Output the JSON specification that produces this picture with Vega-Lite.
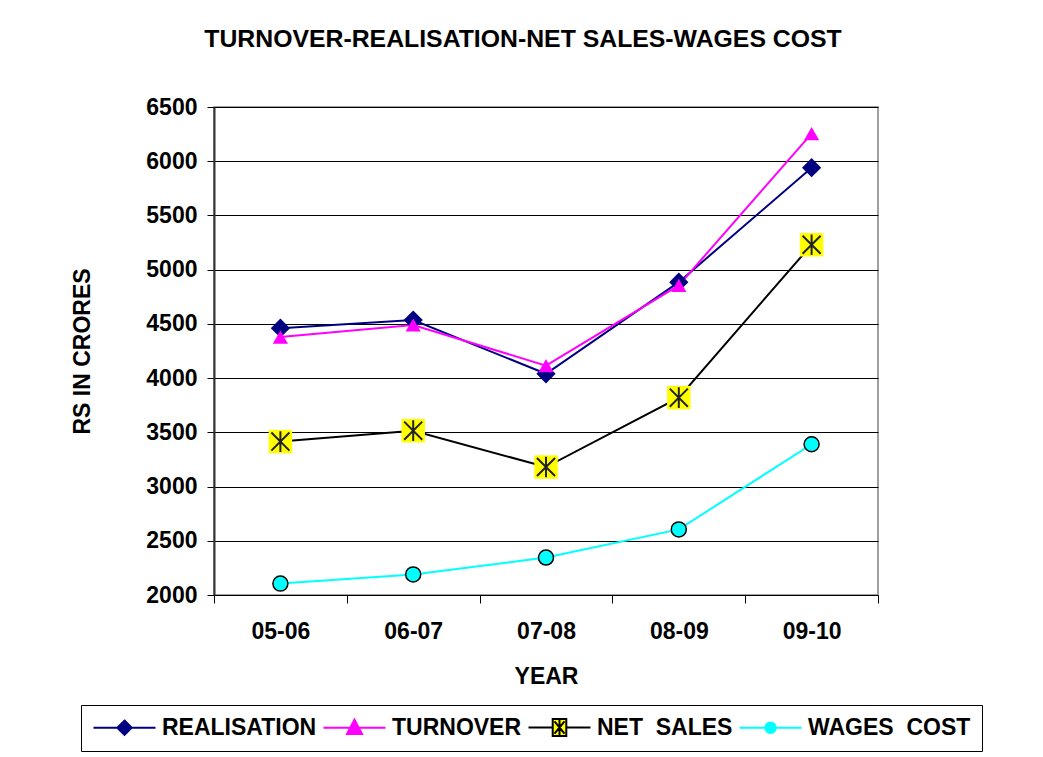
{
  "$schema": "https://vega.github.io/schema/vega-lite/v6.json",
  "width": 664,
  "height": 488,
  "autosize": {"type": "none"},
  "padding": {"left": 214, "top": 107, "right": 165, "bottom": 162},
  "background": "white",
  "title": {
    "text": "TURNOVER-REALISATION-NET SALES-WAGES COST",
    "font": "Liberation Sans",
    "fontSize": 24.8,
    "fontWeight": "bold",
    "color": "black",
    "anchor": "middle",
    "frame": "group",
    "dx": -23,
    "offset": 44
  },
  "config": {
    "view": {"stroke": "#808080", "strokeWidth": 1.5},
    "axis": {
      "labelFont": "Liberation Sans",
      "labelFontSize": 23,
      "labelFontWeight": "bold",
      "labelColor": "black",
      "titleFont": "Liberation Sans",
      "titleFontSize": 23,
      "titleFontWeight": "bold",
      "titleColor": "black",
      "tickColor": "black",
      "domainColor": "#333333"
    }
  },
  "data": {
    "values": [
      {"year": "05-06", "series": "REALISATION", "value": 4460},
      {"year": "06-07", "series": "REALISATION", "value": 4535},
      {"year": "07-08", "series": "REALISATION", "value": 4040},
      {"year": "08-09", "series": "REALISATION", "value": 4885},
      {"year": "09-10", "series": "REALISATION", "value": 5940},
      {"year": "05-06", "series": "TURNOVER", "value": 4378},
      {"year": "06-07", "series": "TURNOVER", "value": 4490},
      {"year": "07-08", "series": "TURNOVER", "value": 4115},
      {"year": "08-09", "series": "TURNOVER", "value": 4855},
      {"year": "09-10", "series": "TURNOVER", "value": 6255},
      {"year": "05-06", "series": "NET SALES", "value": 3415},
      {"year": "06-07", "series": "NET SALES", "value": 3515},
      {"year": "07-08", "series": "NET SALES", "value": 3180},
      {"year": "08-09", "series": "NET SALES", "value": 3820},
      {"year": "09-10", "series": "NET SALES", "value": 5230},
      {"year": "05-06", "series": "WAGES COST", "value": 2105},
      {"year": "06-07", "series": "WAGES COST", "value": 2190},
      {"year": "07-08", "series": "WAGES COST", "value": 2345},
      {"year": "08-09", "series": "WAGES COST", "value": 2605},
      {"year": "09-10", "series": "WAGES COST", "value": 3390}
    ]
  },
  "encoding": {
    "x": {
      "field": "year",
      "type": "ordinal",
      "bandPosition": 0.5,
      "scale": {"type": "band", "paddingInner": 0, "paddingOuter": 0},
      "axis": {
        "title": "YEAR",
        "labelAngle": 0,
        "tickBand": "extent",
        "tickSize": 8,
        "labelPadding": 17,
        "titlePadding": 22,
        "domainColor": "black",
        "grid": false
      }
    },
    "y": {
      "field": "value",
      "type": "quantitative",
      "scale": {"domain": [2000, 6500], "nice": false, "zero": false},
      "axis": {
        "title": "RS IN CRORES",
        "format": "d",
        "values": [2000, 2500, 3000, 3500, 4000, 4500, 5000, 5500, 6000, 6500],
        "grid": true,
        "gridColor": "black",
        "gridWidth": 1,
        "tickSize": 7,
        "labelPadding": 10,
        "titlePadding": 51,
        "domainWidth": 2
      }
    }
  },
  "layer": [
    {
      "mark": {"type": "line", "strokeWidth": 2},
      "encoding": {
        "color": {
          "field": "series",
          "type": "nominal",
          "sort": ["REALISATION", "TURNOVER", "NET SALES", "WAGES COST"],
          "scale": {
            "domain": ["REALISATION", "TURNOVER", "NET SALES", "WAGES COST"],
            "range": ["#000080", "#FF00FF", "#000000", "#00FFFF"]
          },
          "legend": {
            "title": null,
            "orient": "none",
            "legendX": -133,
            "legendY": 598,
            "direction": "horizontal",
            "columns": 4,
            "symbolSize": 400,
            "symbolOffset": 21,
            "symbolStrokeWidth": 2,
            "labelOffset": 26,
            "columnPadding": 2,
            "padding": 11,
            "labelLimit": 400,
            "strokeColor": "black",
            "fillColor": "white",
            "labelFont": "Liberation Sans",
            "labelFontSize": 23,
            "labelFontWeight": "bold",
            "labelColor": "black",
            "labelExpr": "datum.label === 'NET SALES' ? 'NET\u00a0 SALES' : datum.label === 'WAGES COST' ? 'WAGES\u00a0 COST' : datum.label",
            "encode": {
              "symbols": {
                "update": {
                  "shape": {"signal": "datum.value === 'REALISATION' ? 'M-3.1,0H3.1M0,-0.72L0.72,0L0,0.72L-0.72,0Z' : datum.value === 'TURNOVER' ? 'M-3.1,0H3.1M0,-0.8L0.75,0.62L-0.75,0.62Z' : datum.value === 'NET SALES' ? 'M-3.1,0H-0.68M0.68,0H3.1M-0.68,-0.85H0.68V0.85H-0.68ZM0,-0.75V0.75M-0.5,-0.62L0.5,0.62M0.5,-0.62L-0.5,0.62' : 'M-3.1,0H-0.52M0.52,0H3.1M0.52,0A0.52,0.52,0,1,1,-0.52,0A0.52,0.52,0,1,1,0.52,0Z'"},
                  "fill": {"signal": "datum.value === 'REALISATION' ? '#000080' : datum.value === 'TURNOVER' ? '#FF00FF' : datum.value === 'NET SALES' ? '#FFFF00' : '#00FFFF'"},
                  "stroke": {"signal": "datum.value === 'REALISATION' ? '#000080' : datum.value === 'TURNOVER' ? '#FF00FF' : datum.value === 'NET SALES' ? '#000000' : '#00FFFF'"},
                  "strokeWidth": {"value": 2},
                  "opacity": {"value": 1}
                }
              }
            }
          }
        }
      }
    },
    {
      "transform": [{"filter": "datum.series === 'REALISATION'"}],
      "mark": {"type": "point", "shape": "diamond", "filled": true, "fill": "#000080", "size": 370, "opacity": 1}
    },
    {
      "transform": [{"filter": "datum.series === 'TURNOVER'"}],
      "mark": {"type": "point", "shape": "triangle-up", "filled": true, "fill": "#FF00FF", "size": 230, "opacity": 1}
    },
    {
      "transform": [{"filter": "datum.series === 'NET SALES'"}],
      "mark": {"type": "point", "shape": "square", "filled": true, "fill": "#FFFF00", "size": 552, "opacity": 1}
    },
    {
      "transform": [{"filter": "datum.series === 'NET SALES'"}],
      "mark": {"type": "point", "shape": "M0,-0.88V0.88M-0.77,-0.77L0.77,0.77M0.77,-0.77L-0.77,0.77", "filled": false, "stroke": "#222222", "strokeWidth": 2, "size": 552, "opacity": 1}
    },
    {
      "transform": [{"filter": "datum.series === 'WAGES COST'"}],
      "mark": {"type": "point", "shape": "circle", "filled": true, "fill": "#00FFFF", "stroke": "black", "strokeWidth": 1.5, "size": 225, "opacity": 1}
    }
  ]
}
